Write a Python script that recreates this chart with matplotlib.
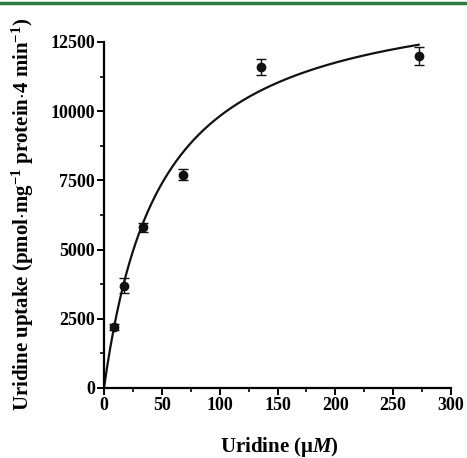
import numpy as np
import matplotlib
matplotlib.use("Agg")
import matplotlib.pyplot as plt
from matplotlib.lines import Line2D

# Data
uridine_uM = [8.5, 17, 34, 68, 136, 272]
uptake = [2200, 3700, 5800, 7700, 11600, 12000]
uptake_err = [120, 260, 160, 200, 280, 330]
# Michaelis-Menten fit parameters
vmax = 14640
km = 49.1
x_ticks = [0, 50, 100, 150, 200, 250, 300]
y_ticks = [0, 2500, 5000, 7500, 10000, 12500]

plt.rcParams['font.family'] = ['Liberation Serif', 'DejaVu Serif']
plt.rcParams['font.weight'] = 'bold'
plt.rcParams['mathtext.fontset'] = 'custom'
plt.rcParams['mathtext.rm'] = 'Liberation Serif:bold'
plt.rcParams['mathtext.it'] = 'Liberation Serif:italic:bold'
plt.rcParams['mathtext.bf'] = 'Liberation Serif:bold'

W, H = 467, 458
fig = plt.figure(figsize=(W / 100, H / 100), dpi=100)
ax = fig.add_axes([104 / W, 1 - 388 / H, (451 - 104) / W, (388 - 42) / H])

xf = np.linspace(0, max(uridine_uM), 300)
ax.plot(xf, vmax * xf / (km + xf), color='#111111', lw=1.6, zorder=2)
ax.errorbar(uridine_uM, uptake, yerr=uptake_err, fmt='o', color='#111111',
            ms=6, capsize=3.5, elinewidth=1.0, capthick=1.0, zorder=3)

ax.set_xlim(0, 300)
ax.set_ylim(0, 12500)
ax.set_xticks(x_ticks)
ax.set_yticks(y_ticks)
ax.set_xticks(np.arange(25, 300, 50), minor=True)
ax.set_yticks(np.arange(1250, 12500, 2500), minor=True)
for s in ['top', 'right']:
    ax.spines[s].set_visible(False)
for s in ['left', 'bottom']:
    ax.spines[s].set_linewidth(1.6)
ax.tick_params(which='major', length=5, width=1.4, labelsize=13, pad=1.5)
ax.tick_params(which='minor', length=3, width=1.2)
for lab in ax.get_xticklabels() + ax.get_yticklabels():
    lab.set_fontweight('bold')

fig.text(279 / W, 1 - 447 / H, 'Uridine (μ$\\mathit{M}$)', ha='center', va='center',
         fontsize=15, fontweight='bold')
fig.text(23 / W, 1 - 214 / H,
         r'Uridine uptake (pmol$\cdot$mg$^{-1}$ protein$\cdot$4 min$^{-1}$)',
         rotation=90, ha='center', va='center', fontsize=15, fontweight='bold')

fig.add_artist(Line2D([0, 1], [1 - 3 / H, 1 - 3 / H], transform=fig.transFigure,
                      color='#2f7a40', lw=2.5))

fig.savefig('out.png', dpi=100)
